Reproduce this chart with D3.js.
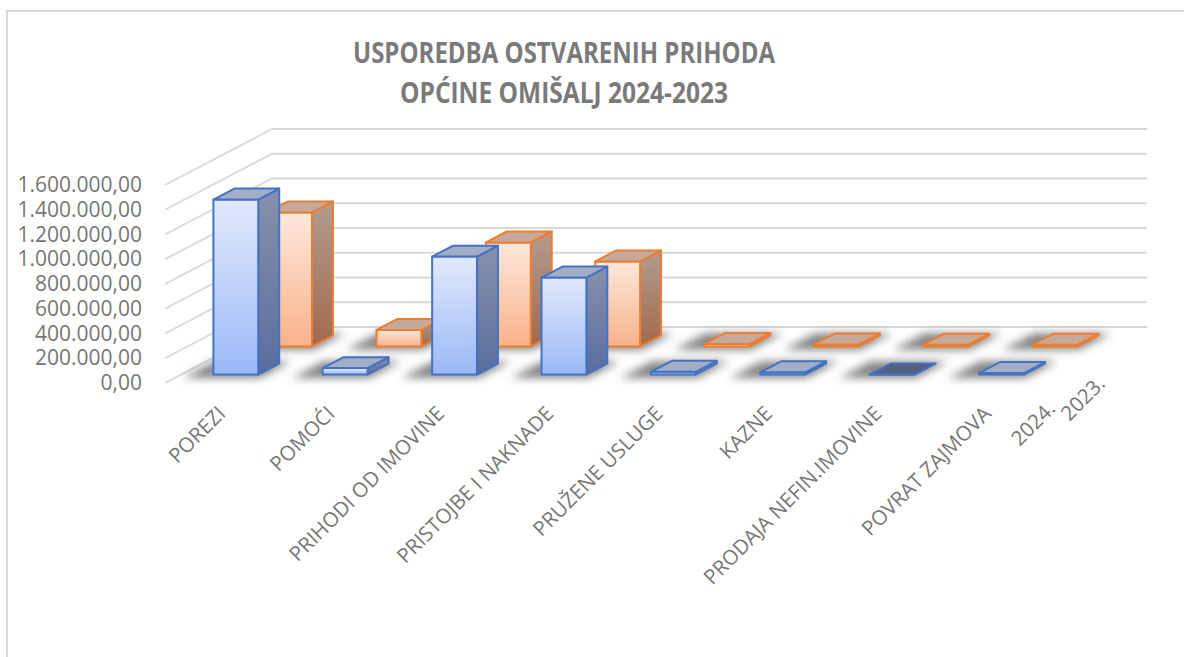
<!DOCTYPE html>
<html>
<head>
<meta charset="utf-8">
<script src="https://cdn.jsdelivr.net/npm/d3@7"></script>
<style>
  html, body { margin: 0; padding: 0; background: #ffffff; }
  svg { display: block; }
</style>
</head>
<body>
<svg id="chart" width="1184" height="657"></svg>
<script>
// ---------------- DATA ----------------
const categories = ["POREZI", "POMOĆI", "PRIHODI OD IMOVINE", "PRISTOJBE I NAKNADE",
  "PRUŽENE USLUGE", "KAZNE", "PRODAJA NEFIN.IMOVINE", "POVRAT ZAJMOVA"];
const seriesNames = ["2024.", "2023."];
const values2024 = [1414000, 52000, 953000, 784000, 22000, 18000, 0, 12000];
const values2023 = [1083000, 133000, 840000, 687000, 20000, 16000, 14000, 14000];
const yTicks = [0, 200000, 400000, 600000, 800000, 1000000, 1200000, 1400000, 1600000];
const titleLines = ["USPOREDBA OSTVARENIH PRIHODA", "OPĆINE OMIŠALJ 2024-2023"];

// ---------------- LAYOUT ----------------
const svg = d3.select("#chart");
const W = 1184, H = 657;
const origin = { x: 165, y: 383 };   // front-left corner of floor
const floorW = 875;                   // width of category axis
const depth = { dx: 107, dy: -56 };   // full depth offset
const wallH = 198;                    // height for max value

const x = d3.scaleBand().domain(categories).range([0, floorW])
  .paddingInner(0.59).paddingOuter(0.295);
const z = d3.scaleBand().domain(seriesNames).range([0, 1])
  .paddingInner(0.61).paddingOuter(0.3);
const yH = d3.scaleLinear().domain([0, 1600000]).range([0, wallH]);
const yPos = d3.scaleLinear().domain([0, 1600000]).range([origin.y, origin.y - wallH]);

function P(xs, d, v) {
  return [origin.x + xs + depth.dx * d, origin.y + depth.dy * d - yH(v)];
}
const poly = pts => "M" + pts.map(p => p[0].toFixed(2) + "," + p[1].toFixed(2)).join("L") + "Z";

const locale = d3.formatLocale({ decimal: ",", thousands: ".", grouping: [3], currency: ["", ""] });
const fmt = locale.format(",.2f");

// ---------------- DEFS ----------------
const defs = svg.append("defs");
function vgrad(id, c0, c1) {
  const g = defs.append("linearGradient").attr("id", id)
    .attr("x1", 0).attr("y1", 0).attr("x2", 0).attr("y2", 1);
  g.append("stop").attr("offset", "0%").attr("stop-color", c0);
  g.append("stop").attr("offset", "100%").attr("stop-color", c1);
}
vgrad("blueFront", "#e1e9fd", "#9bb8f6");
vgrad("blueSide", "#8791ab", "#5a6d9f");
vgrad("orangeFront", "#fee7dc", "#f8b28a");
vgrad("orangeSide", "#b39c90", "#a1694c");
const blur = defs.append("filter").attr("id", "shadowBlur")
  .attr("x", "-50%").attr("y", "-50%").attr("width", "200%").attr("height", "200%");
blur.append("feGaussianBlur").attr("stdDeviation", 4.5);

const styles = {
  "2024.": { front: "url(#blueFront)", side: "url(#blueSide)", top: "#a3adc6", zeroTop: "#56607e", stroke: "#4472c4" },
  "2023.": { front: "url(#orangeFront)", side: "url(#orangeSide)", top: "#c5a99b", zeroTop: "#8a6a5a", stroke: "#ed7d31" }
};

// ---------------- BORDER ----------------
svg.append("path").attr("d", `M7,${H} V11 H${W}`)
  .attr("fill", "none").attr("stroke", "#d9d9d9").attr("stroke-width", 2);

// ---------------- TITLE ----------------
const title = svg.append("text").attr("x", 564).attr("text-anchor", "middle")
  .attr("font-family", "'Open Sans', sans-serif").attr("font-weight", 700)
  .attr("font-size", 28).attr("fill", "#7a7a7a");
title.append("tspan").attr("x", 564).attr("y", 63).text(titleLines[0])
  .attr("textLength", 422).attr("lengthAdjust", "spacingAndGlyphs");
title.append("tspan").attr("x", 564).attr("y", 103).text(titleLines[1])
  .attr("textLength", 328).attr("lengthAdjust", "spacingAndGlyphs");

// ---------------- GRID (walls) ----------------
const grid = svg.append("g").attr("stroke", "#d9d9d9").attr("stroke-width", 1.8).attr("fill", "none");
yTicks.forEach(t => {
  const a = P(0, 0, t), b = P(0, 1, t), c = P(floorW, 1, t);
  grid.append("path").attr("d", `M${a[0]},${a[1]}L${b[0]},${b[1]}L${c[0]},${c[1]}`);
});

// ---------------- Y AXIS ----------------
const yAxis = d3.axisLeft(yPos).tickValues(yTicks).tickFormat(fmt).tickSize(0).tickPadding(23);
const gy = svg.append("g").attr("transform", `translate(${origin.x},0)`).call(yAxis);
gy.select(".domain").remove();
gy.selectAll("text").attr("font-family", "'Open Sans', sans-serif").attr("font-size", 21)
  .attr("fill", "#767676");

// ---------------- BARS ----------------
const rows = [
  { name: "2023.", values: values2023 },
  { name: "2024.", values: values2024 }
];

// shadows first
const shadowG = svg.append("g").attr("filter", "url(#shadowBlur)");
rows.forEach(row => {
  categories.forEach((c, i) => {
    const x0 = x(c) - 24, x1 = x(c) + x.bandwidth() + 8;
    const d0 = z(row.name) - 0.06, d1 = z(row.name) + z.bandwidth() + 0.04;
    shadowG.append("path")
      .attr("d", poly([P(x0, d0, 0), P(x1, d0, 0), P(x1, d1, 0), P(x0, d1, 0)]))
      .attr("fill", "#666666").attr("fill-opacity", 0.8);
  });
});

const barsG = svg.append("g");
rows.forEach(row => {
  const st = styles[row.name];
  categories.forEach((c, i) => {
    const v = row.values[i];
    const x0 = x(c), x1 = x(c) + x.bandwidth();
    const d0 = z(row.name), d1 = z(row.name) + z.bandwidth();
    const g = barsG.append("g").attr("stroke", st.stroke).attr("stroke-width", 2)
      .attr("stroke-linejoin", "round");
    g.append("path").attr("d", poly([P(x1, d0, 0), P(x1, d1, 0), P(x1, d1, v), P(x1, d0, v)]))
      .attr("fill", st.side);
    g.append("path").attr("d", poly([P(x0, d0, 0), P(x1, d0, 0), P(x1, d0, v), P(x0, d0, v)]))
      .attr("fill", st.front);
    g.append("path").attr("d", poly([P(x0, d0, v), P(x1, d0, v), P(x1, d1, v), P(x0, d1, v)]))
      .attr("fill", v === 0 ? st.zeroTop : st.top);
  });
});

// ---------------- CATEGORY LABELS ----------------
const labG = svg.append("g").attr("font-family", "'Open Sans', sans-serif")
  .attr("font-size", 20.5).attr("fill", "#767676");
categories.forEach(c => {
  const px = origin.x + x(c) + x.bandwidth() / 2 + 7;
  const py = 415;
  labG.append("text").attr("text-anchor", "end")
    .attr("transform", `translate(${px},${py}) rotate(-45)`).text(c);
});

// ---------------- DEPTH (SERIES) LABELS ----------------
const backMid = z(seriesNames[1]) + z.bandwidth() / 2;
seriesNames.forEach(s => {
  const dm = z(s) + z.bandwidth() / 2;
  const p = P(floorW, dm, 0);
  const k = backMid - dm;
  labG.append("text").attr("text-anchor", "end")
    .attr("transform", `translate(${p[0] - 14 + 8 * k},${p[1] + 44 - 6 * k}) rotate(-45)`).text(s);
});
</script>
</body>
</html>
